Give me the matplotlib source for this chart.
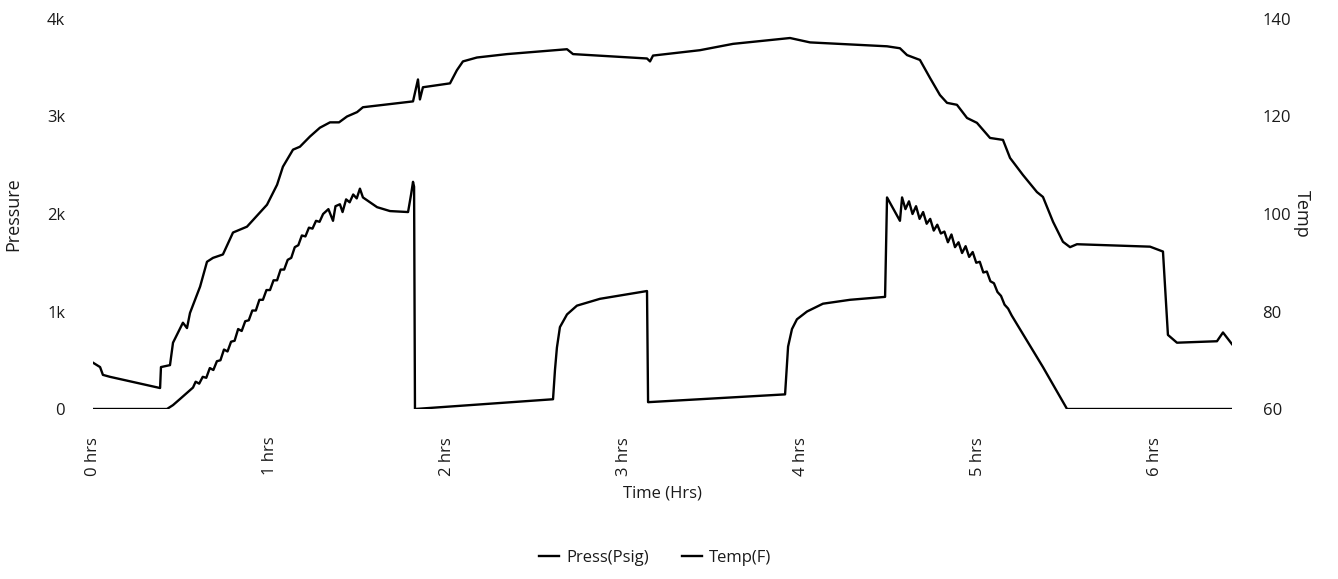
import matplotlib.pyplot as plt

plt.rcParams['font.family'] = ['Open Sans', 'DejaVu Sans']

# Pressure (psig, thousands) vs time (hrs)
press_t = [0.0, 0.418, 0.452, 0.49, 0.565, 0.58, 0.60, 0.62, 0.64, 0.66, 0.68, 0.70, 0.72, 0.74,
           0.76, 0.78, 0.80, 0.82, 0.84, 0.86, 0.88, 0.90, 0.92, 0.94, 0.96, 0.98, 1.00, 1.02,
           1.04, 1.06, 1.08, 1.10, 1.12, 1.14, 1.16, 1.18, 1.20, 1.22, 1.24, 1.26, 1.28, 1.30,
           1.33, 1.356, 1.37, 1.395, 1.41, 1.43, 1.45, 1.47, 1.49, 1.508, 1.525, 1.605, 1.678,
           1.780, 1.797, 1.808, 1.814, 1.819, 2.599, 2.610, 2.621, 2.638, 2.678, 2.734, 2.864,
           3.130, 3.136, 3.910, 3.927, 3.949, 3.977, 4.034, 4.124, 4.277, 4.475, 4.486, 4.559,
           4.571, 4.59, 4.61,
           4.63, 4.65, 4.67, 4.69, 4.71, 4.73, 4.75, 4.77, 4.79, 4.81, 4.83, 4.85, 4.87, 4.89,
           4.91, 4.93, 4.95, 4.97, 4.99, 5.01, 5.03, 5.05, 5.07, 5.09, 5.11, 5.13, 5.15, 5.17,
           5.19, 5.22, 5.367, 5.503, 6.435]
press_k = [0.0, 0.0, 0.04, 0.10, 0.22, 0.28, 0.26, 0.33, 0.32, 0.42, 0.40, 0.49, 0.50, 0.61,
           0.59, 0.69, 0.70, 0.82, 0.80, 0.90, 0.91, 1.01, 1.01, 1.12, 1.12, 1.22, 1.22, 1.32,
           1.32, 1.43, 1.43, 1.53, 1.55, 1.66, 1.68, 1.78, 1.77, 1.86, 1.85, 1.93, 1.92, 2.00,
           2.05, 1.93, 2.08, 2.10, 2.02, 2.15, 2.12, 2.20, 2.16, 2.26, 2.17, 2.07, 2.03,
           2.02, 2.20, 2.33, 2.28, 0.0, 0.10, 0.40, 0.63, 0.84, 0.97, 1.06, 1.13,
           1.21, 0.07, 0.15, 0.64, 0.82, 0.92, 1.00, 1.08, 1.12, 1.15, 2.17, 1.93,
           2.17, 2.05, 2.13,
           2.00, 2.08, 1.95, 2.02, 1.90, 1.95, 1.83, 1.89, 1.80, 1.82, 1.71, 1.79, 1.66, 1.71,
           1.60, 1.67, 1.56, 1.61, 1.50, 1.51, 1.40, 1.41, 1.31, 1.29, 1.20, 1.16, 1.07, 1.03,
           0.96, 0.87, 0.43, 0.0, 0.0]

# Temperature (F) vs time (hrs)
temp_t = [0.0, 0.04, 0.056, 0.096, 0.379, 0.384, 0.435, 0.452, 0.508, 0.531, 0.548, 0.605,
          0.644, 0.678, 0.734, 0.791, 0.870, 0.983, 1.040, 1.073, 1.130, 1.169, 1.226, 1.282,
          1.339, 1.390, 1.435, 1.492, 1.525, 1.808, 1.836, 1.847, 1.864, 2.017, 2.056, 2.090,
          2.169, 2.339, 2.678, 2.712, 3.130, 3.147, 3.164, 3.429, 3.616, 3.938, 4.051, 4.486,
          4.559, 4.599, 4.672, 4.729, 4.785, 4.825, 4.881, 4.938, 4.994, 5.068, 5.141, 5.181,
          5.254, 5.333, 5.367, 5.424, 5.480, 5.520, 5.559, 5.972, 6.045, 6.073, 6.124, 6.350,
          6.384, 6.435]
temp_f = [69.5, 68.6, 67.0, 66.6, 64.3, 68.6, 69.0, 73.6, 77.7, 76.6, 79.7, 85.1,
          90.2, 91.0, 91.7, 96.2, 97.4, 101.9, 106.0, 109.7, 113.2, 113.8, 115.9, 117.7,
          118.8, 118.8, 120.0, 120.9, 121.9, 123.1, 127.6, 123.5, 126.0, 126.8, 129.5, 131.3,
          132.1, 132.8, 133.8, 132.8, 131.9, 131.3, 132.5, 133.6, 134.9, 136.1, 135.2, 134.4,
          134.0, 132.6, 131.6, 127.9, 124.4, 122.8, 122.4, 119.7, 118.7, 115.6, 115.2, 111.5,
          108.0, 104.5, 103.5, 98.4, 94.3, 93.2, 93.8, 93.3, 92.3, 75.2, 73.6, 73.9,
          75.7, 73.3]

hour_ticks = [0, 1, 2, 3, 4, 5, 6]
hour_labels = [f"{h} hrs" for h in hour_ticks]
press_ticks = [0, 1, 2, 3, 4]
press_labels = ["0", "1k", "2k", "3k", "4k"]
temp_ticks = [60, 80, 100, 120, 140]

fig = plt.figure(figsize=(13.38, 5.79), dpi=100)
ax = fig.add_axes([93/1338, 1 - 409/579, (1232 - 93)/1338, 390/579])
ax2 = ax.twinx()

l1, = ax.plot(press_t, press_k, color='black', lw=1.7, label='Press(Psig)')
l2, = ax2.plot(temp_t, temp_f, color='black', lw=1.7, label='Temp(F)')

ax.set_xlim(0, 6.435)
ax.set_ylim(0, 4)
ax2.set_ylim(60, 140)

txt = '#1a1a1a'
ax.set_xticks(hour_ticks)
ax.set_xticklabels(hour_labels, rotation=90, fontsize=12, color=txt)
ax.set_yticks(press_ticks)
ax.set_yticklabels(press_labels, fontsize=12, color=txt)
ax2.set_yticks(temp_ticks)
ax2.set_yticklabels([str(v) for v in temp_ticks], fontsize=12, color=txt)

ax.tick_params(axis='x', length=0, pad=20)
ax.tick_params(axis='y', length=0, pad=20)
ax2.tick_params(axis='y', length=0, pad=22)

for a in (ax, ax2):
    for s in a.spines.values():
        s.set_visible(False)

ax.set_xlabel('Time (Hrs)', fontsize=12, color=txt, labelpad=7)
ax.set_ylabel('Pressure', fontsize=13, color=txt, labelpad=18)
ax2.set_ylabel('Temp', fontsize=13, color=txt, rotation=270, labelpad=14)

fig.legend(handles=[l1, l2], loc='center', bbox_to_anchor=(655/1338, 1 - 558/579),
           ncol=2, frameon=False, fontsize=12, handlelength=1.2, handletextpad=0.4,
           columnspacing=2.0, labelcolor=txt)

fig.savefig('out.png', dpi=100)
